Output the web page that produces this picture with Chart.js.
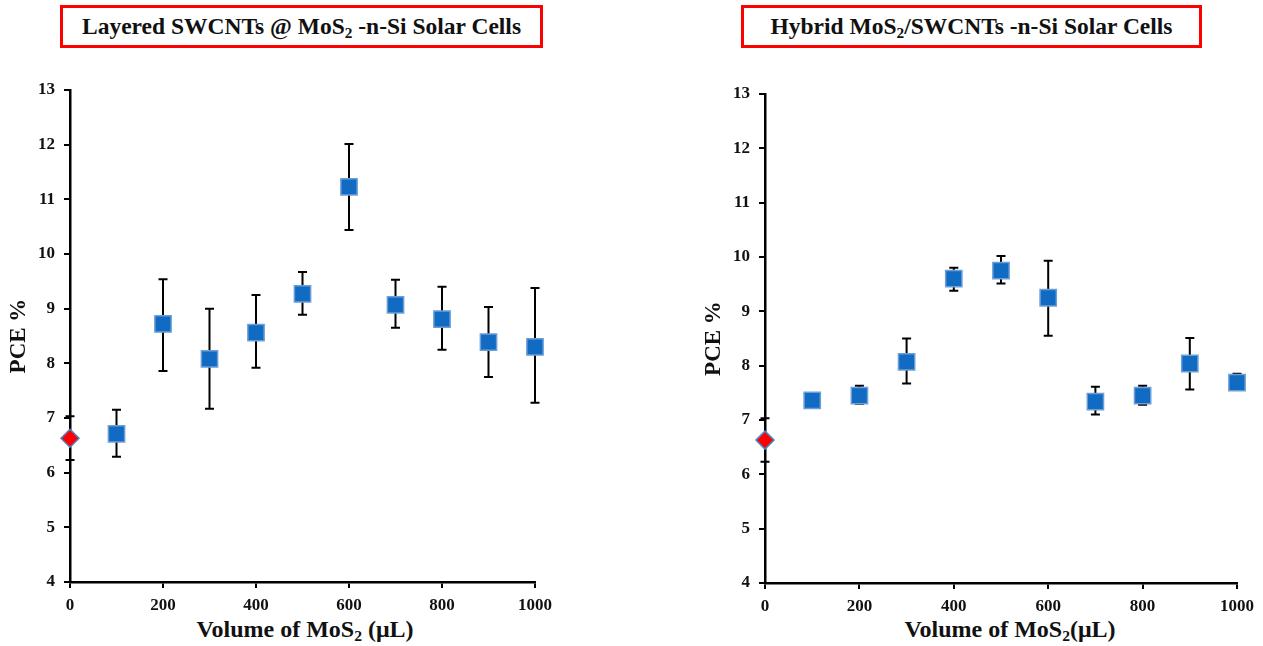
<!DOCTYPE html>
<html>
<head>
<meta charset="utf-8">
<script src="https://cdn.jsdelivr.net/npm/chart.js@4.4.0/dist/chart.umd.min.js"></script>
<style>
  body { margin: 0; width: 1263px; height: 646px; background: #fff; position: relative; overflow: hidden;
         font-family: 'Liberation Serif', 'Times New Roman', serif; }
  .box { position: absolute; top: 5px; height: 43px; box-sizing: border-box; border: 3px solid #ff0000;
         text-align: center; font-weight: bold; font-size: 23.5px; line-height: 37px; color: #111; white-space: nowrap; }
  .xtitle { position: absolute; top: 616px; font-weight: bold; font-size: 24px; color: #111;
            transform: translateX(-50%); white-space: nowrap; }
  sub { font-size: 0.65em; vertical-align: -0.25em; line-height: 0; }
  canvas { position: absolute; top: 0; }
</style>
</head>
<body>
<div class="box" style="left:60px;width:483px;">Layered SWCNTs @ MoS<sub>2</sub> -n-Si Solar Cells</div>
<div class="box" style="left:741px;width:461px;">Hybrid MoS<sub>2</sub>/SWCNTs -n-Si Solar Cells</div>
<div class="xtitle" style="left:305px;">Volume of MoS<sub>2</sub> (μL)</div>
<div class="xtitle" style="left:1010px;">Volume of MoS<sub>2</sub>(μL)</div>
<canvas id="left" width="600" height="646" style="left:0;width:600px;height:646px;"></canvas>
<canvas id="right" width="663" height="646" style="left:600px;width:663px;height:646px;"></canvas>
<script>
// Volume of MoS2 (µL)
const volumes = [100, 200, 300, 400, 500, 600, 700, 800, 900, 1000];

// bare n-Si reference (0 µL)
const refVolume = 0;
const refPce = 6.63;
const refLow = 6.23;
const refHigh = 7.03;

// Layered SWCNTs @ MoS2
const layeredPce  = [6.71, 8.72, 8.08, 8.56, 9.27, 11.23, 9.07, 8.81, 8.39, 8.30];
const layeredLow  = [6.29, 7.86, 7.17, 7.92, 8.89, 10.44, 8.65, 8.25, 7.75, 7.28];
const layeredHigh = [7.15, 9.54, 9.00, 9.25, 9.67, 12.01, 9.53, 9.40, 9.03, 9.38];

// Hybrid MoS2/SWCNTs
const hybridPce  = [7.36, 7.45, 8.07, 9.60, 9.75, 9.25, 7.34, 7.45, 8.04, 7.69];
const hybridLow  = [7.36, 7.30, 7.67, 9.38, 9.51, 8.55, 7.10, 7.28, 7.56, 7.62];
const hybridHigh = [7.36, 7.63, 8.50, 9.80, 10.02, 9.93, 7.61, 7.63, 8.51, 7.85];

const xTicks = [0, 200, 400, 600, 800, 1000];
const yTicks = [4, 5, 6, 7, 8, 9, 10, 11, 12, 13];

const serif = "'Liberation Serif', 'Times New Roman', serif";
const tickFont = { family: serif, size: 17, weight: 'bold' };

// draw vertical error bars with caps, behind the markers
const errorBars = {
  id: 'errorBars',
  beforeDatasetsDraw(chart) {
    const { ctx, scales: { x, y } } = chart;
    ctx.save();
    ctx.strokeStyle = '#000';
    ctx.lineWidth = 2;
    chart.data.datasets.forEach(ds => {
      ds.data.forEach(p => {
        if (p.lo === undefined || p.lo === p.hi) return;
        const px = x.getPixelForValue(p.x);
        const top = y.getPixelForValue(p.hi);
        const bot = y.getPixelForValue(p.lo);
        ctx.beginPath();
        ctx.moveTo(px, top); ctx.lineTo(px, bot);
        ctx.moveTo(px - 4.5, top); ctx.lineTo(px + 4.5, top);
        ctx.moveTo(px - 4.5, bot); ctx.lineTo(px + 4.5, bot);
        ctx.stroke();
      });
    });
    ctx.restore();
  }
};

function makeChart(id, pce, low, high, opts) {
  const points = volumes.map((v, i) => ({ x: v, y: pce[i], lo: low[i], hi: high[i] }));
  return new Chart(document.getElementById(id), {
    type: 'scatter',
    data: {
      datasets: [
        {
          data: [{ x: refVolume, y: refPce, lo: refLow, hi: refHigh }],
          pointStyle: 'rectRot',
          pointRadius: 9,
          pointBackgroundColor: '#ff0000',
          pointBorderColor: '#4f81bd',
          pointBorderWidth: 1.5,
          clip: false
        },
        {
          data: points,
          pointStyle: 'rect',
          pointRadius: 11.5,
          pointBackgroundColor: '#116bc2',
          pointBorderColor: '#6d9fd6',
          pointBorderWidth: 1.5,
          clip: false
        }
      ]
    },
    options: {
      responsive: false,
      animation: false,
      events: [],
      layout: { padding: { top: opts.top, left: opts.padLeft, right: opts.padRight, bottom: 0 } },
      plugins: { legend: { display: false }, tooltip: { enabled: false } },
      scales: {
        x: {
          type: 'linear',
          min: 0, max: 1000,
          afterFit: s => { s.height = opts.xHeight; },
          afterBuildTicks: s => { s.ticks = xTicks.map(v => ({ value: v })); },
          border: { display: true, color: '#000', width: 2.5 },
          grid: { drawOnChartArea: false, drawTicks: true, tickLength: 6, color: '#000', lineWidth: 2 },
          ticks: { color: '#111', font: tickFont, padding: 7, maxRotation: 0, callback: v => String(v) }
        },
        y: {
          type: 'linear',
          min: 4, max: 13,
          afterFit: s => { s.width = opts.yWidth; },
          afterBuildTicks: s => { s.ticks = yTicks.map(v => ({ value: v })); },
          border: { display: true, color: '#000', width: 2.5 },
          grid: { drawOnChartArea: false, drawTicks: true, tickLength: 6, color: '#000', lineWidth: 2 },
          ticks: { color: '#111', font: tickFont, padding: 9, callback: v => String(v) },
          title: {
            display: true,
            text: 'PCE %',
            color: '#111',
            font: { family: serif, size: 23, weight: 'bold' },
            padding: { top: opts.titlePad, bottom: 0 }
          }
        }
      }
    },
    plugins: [errorBars]
  });
}

makeChart('left', layeredPce, layeredLow, layeredHigh,
  { top: 90, padLeft: 0, padRight: 65, xHeight: 64, yWidth: 70, titlePad: 5 });
makeChart('right', hybridPce, hybridLow, hybridHigh,
  { top: 94, padLeft: 99, padRight: 26, xHeight: 63, yWidth: 66, titlePad: 1 });
</script>
</body>
</html>
